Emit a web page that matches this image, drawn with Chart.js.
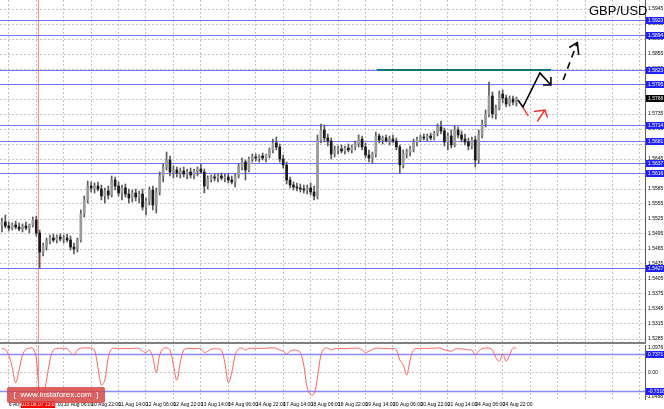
<!DOCTYPE html>
<html><head><meta charset="utf-8">
<script src="https://cdn.jsdelivr.net/npm/chart.js@4.4.0/dist/chart.umd.min.js"></script>
<style>
html,body{margin:0;padding:0;background:#fff;}
#wrap{position:relative;width:664px;height:409px;overflow:hidden;background:#fff;}
#c1{position:absolute;left:0;top:0;}
#c2{position:absolute;left:0;top:345px;}
#sep{position:absolute;left:0;top:342px;width:646px;height:2px;background:#808080;}
#title{position:absolute;left:589px;top:3px;font:13px "Liberation Sans",Arial,sans-serif;color:#000;white-space:nowrap;}
#wm{position:absolute;left:7px;top:387px;width:98px;height:16px;background:rgba(214,70,70,0.85);border-radius:2px;color:#fff;font:8px "Liberation Sans",Arial,sans-serif;line-height:16px;text-align:center;white-space:nowrap;}
</style></head>
<body><div id="wrap">
<canvas id="c1" width="664" height="342"></canvas>
<div id="sep"></div>
<canvas id="c2" width="664" height="64"></canvas>
<div id="title">GBP/USD</div>
<div id="wm">[&nbsp;&nbsp;www.instaforex.com&nbsp;&nbsp;]</div>
</div>
<script>
// ---- Data: 2-hour bars, GBP/USD ----
const open = [1.5513,1.5519,1.5511,1.5507,1.5513,1.5509,1.5505,1.5511,1.5507,1.5513,
1.5523,1.5497,1.5459,1.5471,1.5481,1.5487,1.5483,1.5489,1.5485,1.5487,
1.5483,1.5469,1.5465,1.5483,1.5535,1.5563,1.5591,1.5587,1.5591,1.5585,
1.5571,1.5581,1.5573,1.5603,1.5591,1.5577,1.5587,1.5575,1.5567,1.5577,
1.5569,1.5575,1.5549,1.5561,1.5583,1.5553,1.5579,1.5611,1.5629,1.5643,
1.5619,1.5623,1.5617,1.5621,1.5615,1.5619,1.5613,1.5621,1.5625,1.5619,
1.5591,1.5605,1.5609,1.5607,1.5611,1.5607,1.5609,1.5603,1.5599,1.5611,
1.5629,1.5639,1.5623,1.5645,1.5649,1.5647,1.5651,1.5647,1.5653,1.5663,
1.5677,1.5669,1.5645,1.5633,1.5603,1.5593,1.5589,1.5587,1.5585,1.5583,
1.5587,1.5579,1.5571,1.5683,1.5703,1.5687,1.5681,1.5655,1.5663,1.5665,
1.5661,1.5667,1.5663,1.5669,1.5675,1.5685,1.5669,1.5653,1.5647,1.5655,
1.5691,1.5683,1.5687,1.5681,1.5685,1.5681,1.5669,1.5633,1.5655,1.5659,
1.5665,1.5679,1.5683,1.5689,1.5687,1.5691,1.5687,1.5697,1.5709,1.5701,
1.5679,1.5691,1.5673,1.5703,1.5693,1.5685,1.5679,1.5671,1.5683,1.5643,
1.5693,1.5715,1.5735,1.5771,1.5735,1.5747,1.5775,1.5767,1.5755,1.5765,1.5759];
const high = [1.5527,1.5533,1.5519,1.5517,1.5521,1.5517,1.5515,1.5519,1.5515,1.5529,
1.5531,1.5503,1.5477,1.5487,1.5493,1.5495,1.5493,1.5495,1.5493,1.5495,
1.5491,1.5477,1.5487,1.5543,1.5571,1.5601,1.5599,1.5597,1.5599,1.5593,
1.5587,1.5591,1.5611,1.5609,1.5599,1.5593,1.5595,1.5585,1.5583,1.5585,
1.5581,1.5585,1.5567,1.5589,1.5591,1.5587,1.5619,1.5635,1.5659,1.5651,
1.5631,1.5629,1.5627,1.5629,1.5625,1.5627,1.5625,1.5629,1.5635,1.5625,
1.5611,1.5613,1.5615,1.5615,1.5617,1.5615,1.5615,1.5611,1.5615,1.5635,
1.5647,1.5643,1.5649,1.5655,1.5655,1.5653,1.5657,1.5655,1.5667,1.5685,
1.5689,1.5675,1.5653,1.5639,1.5609,1.5599,1.5597,1.5595,1.5593,1.5593,
1.5597,1.5591,1.5693,1.5715,1.5713,1.5695,1.5687,1.5671,1.5671,1.5673,
1.5671,1.5675,1.5673,1.5681,1.5693,1.5691,1.5677,1.5663,1.5659,1.5699,
1.5695,1.5691,1.5693,1.5691,1.5693,1.5687,1.5673,1.5663,1.5665,1.5671,
1.5685,1.5689,1.5693,1.5695,1.5695,1.5697,1.5701,1.5715,1.5721,1.5707,
1.5697,1.5703,1.5711,1.5709,1.5701,1.5695,1.5687,1.5689,1.5691,1.5703,
1.5723,1.5743,1.5799,1.5779,1.5753,1.5781,1.5783,1.5773,1.5771,1.5771,1.5769];
const low = [1.5499,1.5507,1.5501,1.5503,1.5505,1.5501,1.5499,1.5503,1.5497,1.5509,
1.5491,1.5427,1.5451,1.5463,1.5475,1.5479,1.5477,1.5481,1.5477,1.5479,
1.5463,1.5455,1.5459,1.5479,1.5529,1.5557,1.5579,1.5577,1.5581,1.5563,
1.5557,1.5565,1.5569,1.5583,1.5571,1.5563,1.5569,1.5557,1.5559,1.5561,
1.5557,1.5543,1.5533,1.5553,1.5543,1.5537,1.5573,1.5599,1.5623,1.5611,
1.5607,1.5609,1.5607,1.5609,1.5605,1.5607,1.5605,1.5611,1.5617,1.5577,
1.5585,1.5599,1.5601,1.5599,1.5603,1.5599,1.5597,1.5595,1.5589,1.5607,
1.5623,1.5603,1.5619,1.5639,1.5641,1.5639,1.5643,1.5639,1.5647,1.5657,
1.5663,1.5639,1.5627,1.5595,1.5587,1.5583,1.5581,1.5579,1.5577,1.5575,
1.5573,1.5563,1.5565,1.5677,1.5679,1.5671,1.5645,1.5649,1.5655,1.5657,
1.5655,1.5659,1.5657,1.5663,1.5669,1.5663,1.5647,1.5639,1.5637,1.5649,
1.5677,1.5675,1.5679,1.5673,1.5677,1.5663,1.5617,1.5627,1.5647,1.5651,
1.5659,1.5671,1.5679,1.5683,1.5681,1.5683,1.5683,1.5691,1.5695,1.5671,
1.5663,1.5667,1.5669,1.5687,1.5679,1.5673,1.5663,1.5665,1.5629,1.5637,
1.5687,1.5709,1.5729,1.5727,1.5725,1.5743,1.5757,1.5749,1.5751,1.5753,1.5751];
const close = [1.5519,1.5511,1.5507,1.5513,1.5509,1.5505,1.5511,1.5507,1.5513,1.5523,
1.5497,1.5459,1.5471,1.5481,1.5487,1.5483,1.5489,1.5485,1.5487,1.5483,
1.5469,1.5465,1.5483,1.5535,1.5563,1.5591,1.5587,1.5591,1.5585,1.5571,
1.5581,1.5573,1.5603,1.5591,1.5577,1.5587,1.5575,1.5567,1.5577,1.5569,
1.5575,1.5549,1.5561,1.5583,1.5553,1.5579,1.5611,1.5629,1.5643,1.5619,
1.5623,1.5617,1.5621,1.5615,1.5619,1.5613,1.5621,1.5625,1.5619,1.5591,
1.5605,1.5609,1.5607,1.5611,1.5607,1.5609,1.5603,1.5599,1.5611,1.5629,
1.5639,1.5623,1.5645,1.5649,1.5647,1.5651,1.5647,1.5653,1.5663,1.5677,
1.5669,1.5645,1.5633,1.5603,1.5593,1.5589,1.5587,1.5585,1.5583,1.5587,
1.5579,1.5571,1.5683,1.5703,1.5687,1.5681,1.5655,1.5663,1.5665,1.5661,
1.5667,1.5663,1.5669,1.5675,1.5685,1.5669,1.5653,1.5647,1.5655,1.5691,
1.5683,1.5687,1.5681,1.5685,1.5681,1.5669,1.5633,1.5655,1.5659,1.5665,
1.5679,1.5683,1.5689,1.5687,1.5691,1.5687,1.5697,1.5709,1.5701,1.5679,
1.5691,1.5673,1.5703,1.5693,1.5685,1.5679,1.5671,1.5683,1.5643,1.5693,
1.5715,1.5735,1.5771,1.5735,1.5747,1.5775,1.5767,1.5755,1.5765,1.5759,1.5767];
// oscillator (sub window)
const osc = [0.95,0.92,0.7,0.2,-0.4,0.1,0.7,0.93,0.97,0.97,
0.6,-0.8,-0.88,-0.3,0.5,0.9,0.96,0.97,0.96,0.95,
0.8,0.7,0.9,0.97,0.98,0.98,0.97,0.9,0.2,-0.5,
-0.3,0.6,0.95,0.97,0.96,0.95,0.96,0.95,0.96,0.97,
0.96,0.85,0.8,0.9,0.6,0.0,0.7,0.96,0.98,0.9,
0.3,-0.3,0.4,0.9,0.96,0.96,0.95,0.96,0.95,0.8,
0.85,0.93,0.95,0.94,0.9,0.4,-0.4,0.0,0.7,0.95,
0.97,0.9,0.96,0.97,0.96,0.97,0.96,0.97,0.98,0.98,
0.97,0.9,0.85,0.75,0.85,0.9,0.88,0.8,0.3,-0.6,
-0.88,-0.85,-0.2,0.7,0.96,0.97,0.9,0.95,0.96,0.96,
0.95,0.96,0.97,0.97,0.97,0.9,0.8,0.85,0.92,0.97,
0.97,0.96,0.96,0.95,0.96,0.9,0.5,0.3,-0.1,0.5,
0.9,0.96,0.96,0.97,0.96,0.97,0.97,0.98,0.97,0.9,
0.88,0.85,0.93,0.95,0.94,0.93,0.9,0.9,0.7,0.85,
0.96,0.97,0.98,0.9,0.6,0.45,0.75,0.45,0.7,0.97,0.97];

// price axis ticks and level lines
const yTicks = [1.5945,1.5915,1.5885,1.5855,1.5825,1.5795,1.5765,1.5735,1.5705,1.5675,1.5645,1.5615,
1.5585,1.5555,1.5525,1.5495,1.5465,1.5435,1.5405,1.5375,1.5345,1.5315,1.5285];
const levels = [1.5923,1.5894,1.5823,1.5795,1.5714,1.5681,1.5637,1.5616,1.5427];
const currentPrice = 1.5768;
const oscLevels = [0.7371,-0.7318];
const oscRange = [-1.0488, 1.0976];
// time axis labels (every 16 trading hours, starting 6 Aug 22:00)
const timeTicks = ["6 Aug 22:00","7 Aug 14:00","10 Aug 06:00","10 Aug 22:00","11 Aug 14:00","12 Aug 06:00",
"12 Aug 22:00","13 Aug 14:00","14 Aug 06:00","14 Aug 22:00","17 Aug 14:00","18 Aug 06:00","18 Aug 22:00",
"19 Aug 14:00","20 Aug 06:00","20 Aug 22:00","21 Aug 14:00","24 Aug 06:00","24 Aug 22:00"];
const crosshair = {hour: 17, label: "2015.08.07 13:00"};
// hand-drawn forecast objects (time in trading hours after 6 Aug 22:00, price)
const teal = [{x:214.7,y:1.5823},{x:316.2,y:1.5823}];
const blackPath = [{x:296.9,y:1.5763},{x:299.8,y:1.5749},{x:309.7,y:1.5817},{x:316.1,y:1.5793}];
const blackHead = [{x:316.1,y:1.5809},{x:316.1,y:1.5793},{x:311.5,y:1.5793}];
const dashPath = [{x:323.3,y:1.5803},{x:331.5,y:1.5878}];
const dashHead = [{x:326.8,y:1.5868},{x:331.5,y:1.5878},{x:332.3,y:1.5853}];
const redSeg = [{x:299.1,y:1.5752},{x:302.9,y:1.5731}];
const redPath = [{x:308.1,y:1.5720},{x:312.6,y:1.5743}];
const redHead = [{x:306.2,y:1.5740},{x:312.6,y:1.5743},{x:314.2,y:1.5728}];

// ---- build ----
const barHour = i => -4 + 2 * i;
const wickData = open.map((o, i) => ({x: barHour(i), y: [low[i], high[i]]}));
const bodyData = open.map((o, i) => ({x: barHour(i), y: [o, close[i]]}));
const bodyColors = open.map((o, i) => close[i] >= o ? '#9a9a9a' : '#1a1a1a');
const oscData = osc.map((v, i) => ({x: barHour(i), y: v}));
const gridHours = Array.from({length: 24}, (_, k) => k * 16);

const FONT = 'Liberation Sans';
const XMIN = -5.13, XMAX = 370.97;
const GRID = '#c4c4c4';

function fixY(s) { s.width = 19; s.paddingTop = 0; s.paddingBottom = 0; s.paddingLeft = 0; s.paddingRight = 0; }
function fixX(h) { return s => { s.height = h; s.paddingLeft = 0; s.paddingRight = 0; s.paddingTop = 0; s.paddingBottom = 0; }; }

function xScale(showLabels) {
  return {
    type: 'linear', min: XMIN, max: XMAX, position: 'bottom', offset: false,
    afterBuildTicks: s => { s.ticks = gridHours.map(v => ({value: v})); },
    afterFit: fixX(showLabels ? 10 : 0),
    grid: {color: GRID, lineWidth: 1, drawTicks: false, offset: false},
    border: {display: false, dash: [2, 2]},
    ticks: showLabels ? {
      display: true, autoSkip: false, maxRotation: 0, align: 'start', padding: 3,
      font: {family: FONT, size: 5}, color: '#000',
      callback: v => timeTicks[Math.round(v / 16)] || ''
    } : {display: false}
  };
}

function lineDs(data, color, width, dash) {
  return {type: 'line', data, borderColor: color, borderWidth: width, borderDash: dash || [],
    pointRadius: 0, fill: false, tension: 0, order: 0, clip: false};
}

const crossPlugin = {
  id: 'cross',
  beforeDatasetsDraw(chart) {
    const {ctx, chartArea, scales} = chart;
    const x = Math.round(scales.x.getPixelForValue(crosshair.hour)) + 0.5;
    ctx.save();
    ctx.strokeStyle = '#ff8c8c'; ctx.lineWidth = 1;
    ctx.beginPath(); ctx.moveTo(x, chartArea.top); ctx.lineTo(x, chartArea.bottom); ctx.stroke();
    ctx.restore();
  }
};

function boxLabel(ctx, y, text, bg, fg) {
  ctx.fillStyle = bg;
  ctx.fillRect(646, Math.round(y) - 3, 18, 7);
  ctx.fillStyle = fg;
  ctx.font = '5px "' + FONT + '"';
  ctx.textBaseline = 'middle'; ctx.textAlign = 'left';
  ctx.fillText(text, 648, Math.round(y) + 0.5);
}

const levelPlugin = {
  id: 'levels',
  beforeDatasetsDraw(chart) {
    const {ctx, chartArea, scales} = chart;
    ctx.save();
    ctx.strokeStyle = '#7272ff'; ctx.lineWidth = 1;
    levels.forEach(v => {
      const y = Math.round(scales.y.getPixelForValue(v)) + 0.5;
      ctx.beginPath(); ctx.moveTo(chartArea.left, y); ctx.lineTo(chartArea.right, y); ctx.stroke();
    });
    ctx.restore();
  },
  afterDraw(chart) {
    const {ctx, scales} = chart;
    ctx.save();
    levels.forEach(v => boxLabel(ctx, scales.y.getPixelForValue(v), v.toFixed(4), '#1f1fff', '#fff'));
    boxLabel(ctx, scales.y.getPixelForValue(currentPrice), currentPrice.toFixed(4), '#000', '#fff');
    ctx.restore();
  }
};

new Chart(document.getElementById('c1'), {
  type: 'bar',
  data: {datasets: [
    {type: 'bar', data: bodyData, backgroundColor: bodyColors, barThickness: 2, grouped: false, order: 1, borderWidth: 0},
    {type: 'bar', data: wickData, backgroundColor: '#5a5a5a', barThickness: 1, grouped: false, order: 2, borderWidth: 0},
    lineDs(teal, '#0c7878', 2),
    lineDs(blackPath, '#000', 1.6),
    lineDs(blackHead, '#000', 1.6),
    lineDs(dashPath, '#000', 1.6, [7, 5]),
    lineDs(dashHead, '#000', 1.6),
    lineDs(redSeg, '#ff2a2a', 1.4),
    lineDs(redPath, '#ff2a2a', 1.4),
    lineDs(redHead, '#ff2a2a', 1.4)
  ]},
  options: {
    responsive: false, animation: false, devicePixelRatio: 1,
    layout: {padding: 0},
    plugins: {legend: {display: false}, tooltip: {enabled: false}},
    scales: {
      x: xScale(false),
      y: {
        type: 'linear', position: 'right', min: 1.5279, max: 1.5963,
        afterBuildTicks: s => { s.ticks = yTicks.map(v => ({value: v})); },
        afterFit: fixY,
        grid: {color: GRID, lineWidth: 1, drawTicks: false},
        border: {display: true, color: '#5a5a5a', width: 1, dash: [2, 2]},
        ticks: {padding: 3, font: {family: FONT, size: 5}, color: '#000', callback: v => v.toFixed(4)}
      }
    }
  },
  plugins: [crossPlugin, levelPlugin]
});

const oscPlugin = {
  id: 'osc',
  beforeDatasetsDraw(chart) {
    const {ctx, chartArea, scales} = chart;
    ctx.save();
    ctx.strokeStyle = '#8a8aff'; ctx.lineWidth = 1.5;
    oscLevels.forEach(v => {
      const y = Math.round(scales.y.getPixelForValue(v)) + 0.5;
      ctx.beginPath(); ctx.moveTo(chartArea.left, y); ctx.lineTo(chartArea.right, y); ctx.stroke();
    });
    ctx.restore();
  },
  afterDraw(chart) {
    const {ctx, scales, chartArea} = chart;
    ctx.save();
    ctx.font = '5px "' + FONT + '"'; ctx.fillStyle = '#000'; ctx.textBaseline = 'middle'; ctx.textAlign = 'left';
    ctx.fillText(oscRange[1].toFixed(4), 648, chartArea.top + 3);
    ctx.fillText(oscRange[0].toFixed(4), 646, chartArea.bottom - 2);
    oscLevels.forEach(v => boxLabel(ctx, scales.y.getPixelForValue(v), v.toFixed(4), '#1f1fff', '#fff'));
    // crosshair time label
    const x = scales.x.getPixelForValue(crosshair.hour);
    ctx.fillStyle = '#ff0000';
    ctx.fillRect(x - 17, chartArea.bottom + 2, 34, 7);
    ctx.fillStyle = '#fff'; ctx.textAlign = 'center';
    ctx.fillText(crosshair.label, x, chartArea.bottom + 5.5);
    ctx.restore();
  }
};

new Chart(document.getElementById('c2'), {
  type: 'line',
  data: {datasets: [
    {data: oscData, borderColor: '#ff6262', borderWidth: 1, pointRadius: 0, tension: 0.35, fill: false}
  ]},
  options: {
    responsive: false, animation: false, devicePixelRatio: 1,
    layout: {padding: 0},
    plugins: {legend: {display: false}, tooltip: {enabled: false}},
    scales: {
      x: xScale(true),
      y: {
        type: 'linear', position: 'right', min: oscRange[0], max: oscRange[1],
        afterBuildTicks: s => { s.ticks = [{value: 0}]; },
        afterFit: fixY,
        grid: {color: GRID, lineWidth: 1, drawTicks: false},
        border: {display: true, color: '#5a5a5a', width: 1, dash: [2, 2]},
        ticks: {padding: 3, font: {family: FONT, size: 5}, color: '#000', callback: v => v.toFixed(2)}
      }
    }
  },
  plugins: [crossPlugin, oscPlugin]
});
</script>
</body></html>
